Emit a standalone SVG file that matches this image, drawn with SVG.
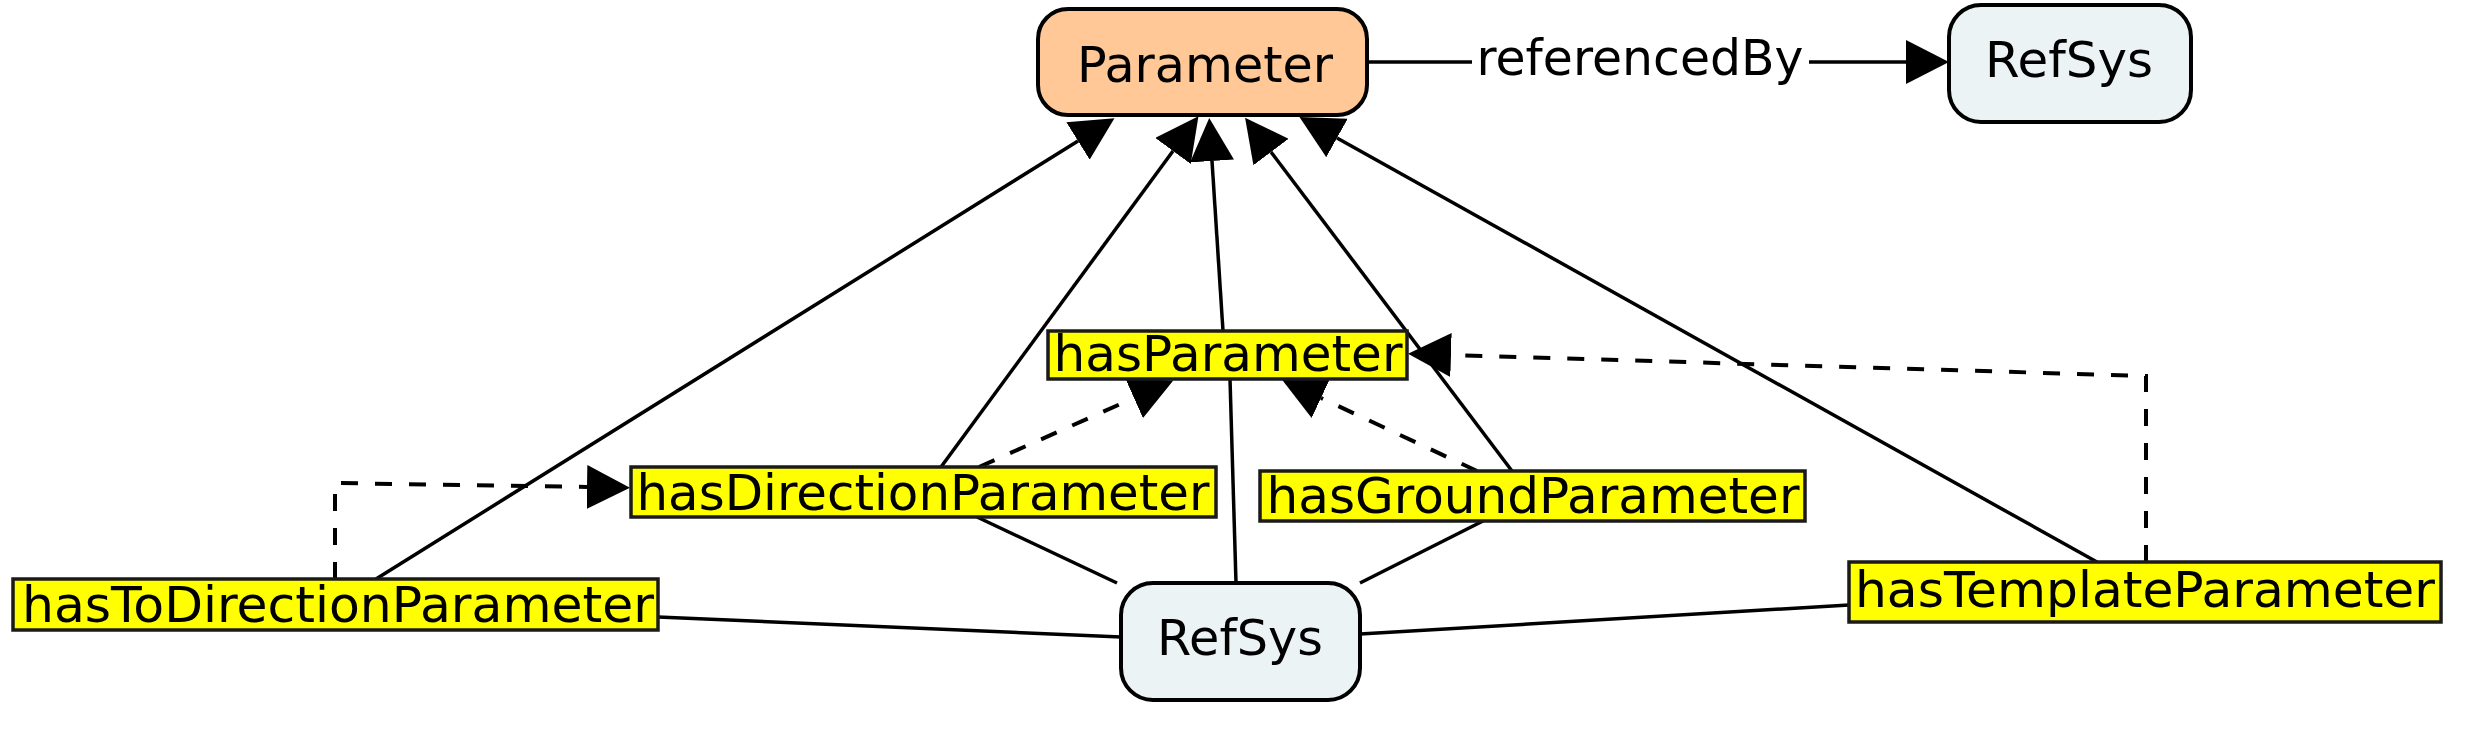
<svg xmlns="http://www.w3.org/2000/svg" width="2473" height="729" viewBox="0 0 2473 729">
<defs>
<style>
.node{stroke:#000;stroke-width:4}
.param{fill:#ffc896}
.ref{fill:#ebf3f5}
.lbl{fill:#ffff00;stroke:#1a1a1a;stroke-width:3.5}
text{font-family:"DejaVu Sans","Liberation Sans",sans-serif;font-size:50.5px;fill:#000;text-anchor:middle}
.e{fill:none;stroke:#000;stroke-width:3.5}
.d{fill:none;stroke:#000;stroke-width:4}
.d{stroke-dasharray:17 17}
</style>
<marker id="ah" markerUnits="userSpaceOnUse" markerWidth="44" markerHeight="44" refX="0" refY="22" orient="auto" viewBox="0 0 44 44">
<path d="M0,0 L43,22 L0,44 z" fill="#000"/>
</marker>
</defs>
<rect width="2473" height="729" fill="#fff"/>
<g id="connectors">
<line class="e" x1="1367" y1="62" x2="1472" y2="62"/>
<line class="e" x1="1809" y1="62" x2="1906" y2="62" marker-end="url(#ah)"/>
<line class="e" x1="376" y1="579" x2="1078" y2="141" marker-end="url(#ah)"/>
<line class="e" x1="941" y1="467" x2="1173" y2="151" marker-end="url(#ah)"/>
<line class="e" x1="1223" y1="331" x2="1212" y2="161" marker-end="url(#ah)"/>
<line class="e" x1="1512" y1="471" x2="1271" y2="152" marker-end="url(#ah)"/>
<line class="e" x1="2097" y1="562" x2="1337" y2="138" marker-end="url(#ah)"/>
<line class="e" x1="1121" y1="637" x2="658" y2="617"/>
<line class="e" x1="1117" y1="583" x2="977" y2="517"/>
<line class="e" x1="1236" y1="583" x2="1230" y2="379"/>
<line class="e" x1="1360" y1="583" x2="1483" y2="521"/>
<line class="e" x1="1360" y1="634" x2="1849" y2="605"/>
<polyline class="d" points="335,579 335,483 587,487" marker-end="url(#ah)"/>
<line class="d" x1="979" y1="467" x2="1134" y2="398" marker-end="url(#ah)"/>
<line class="d" x1="1477" y1="471" x2="1321" y2="398" marker-end="url(#ah)"/>
<polyline class="d" points="2146,562 2146,376 1451,355" marker-end="url(#ah)"/>
<text x="1640" y="75" textLength="327" lengthAdjust="spacingAndGlyphs">referencedBy</text>
</g>
<g id="node-parameter">
<rect class="node param" x="1038" y="9" width="329" height="106" rx="30"/>
<text x="1205" y="82" textLength="256" lengthAdjust="spacingAndGlyphs">Parameter</text>
</g>
<g id="node-refsys-top">
<rect class="node ref" x="1949" y="5" width="242" height="117" rx="32"/>
<text x="2069" y="77" textLength="168" lengthAdjust="spacingAndGlyphs">RefSys</text>
</g>
<g id="node-refsys-bottom">
<rect class="node ref" x="1121" y="583" width="239" height="117" rx="32"/>
<text x="1240" y="655" textLength="166" lengthAdjust="spacingAndGlyphs">RefSys</text>
</g>
<g id="label-hasParameter">
<rect class="lbl" x="1048" y="331" width="359" height="48"/>
<text x="1228" y="371" textLength="349" lengthAdjust="spacingAndGlyphs">hasParameter</text>
</g>
<g id="label-hasDirectionParameter">
<rect class="lbl" x="631" y="467" width="585" height="50"/>
<text x="923" y="510" textLength="573" lengthAdjust="spacingAndGlyphs">hasDirectionParameter</text>
</g>
<g id="label-hasGroundParameter">
<rect class="lbl" x="1260" y="471" width="545" height="50"/>
<text x="1533" y="513" textLength="533" lengthAdjust="spacingAndGlyphs">hasGroundParameter</text>
</g>
<g id="label-hasToDirectionParameter">
<rect class="lbl" x="13" y="579" width="645" height="51"/>
<text x="338" y="622" textLength="632" lengthAdjust="spacingAndGlyphs">hasToDirectionParameter</text>
</g>
<g id="label-hasTemplateParameter">
<rect class="lbl" x="1849" y="562" width="592" height="60"/>
<text x="2145" y="607" textLength="580" lengthAdjust="spacingAndGlyphs">hasTemplateParameter</text>
</g>
</svg>
